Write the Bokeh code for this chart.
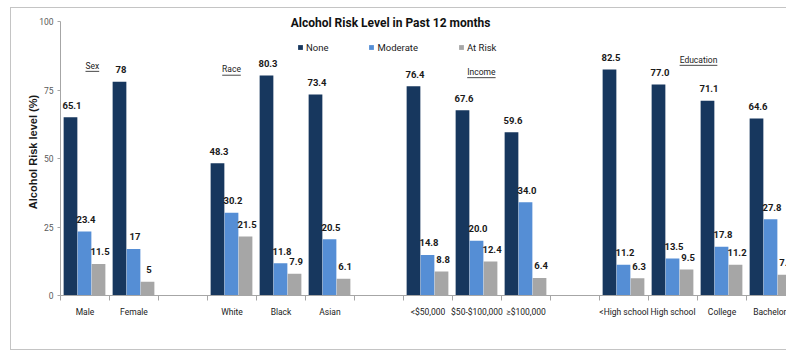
from bokeh.plotting import figure
from bokeh.models import (Range1d, FixedTicker, Legend, LegendItem, Label,
                          ColumnDataSource)
from bokeh.core.properties import value
from bokeh.transform import dodge
from bokeh.embed import file_html
from bokeh.resources import INLINE

# ---------------- data ----------------
categories = ["Male", "Female", "", "White", "Black", "Asian", "",
              "<$50,000", "$50-$100,000", "\u2265$100,000", "",
              "<High school", "High school", "College", "Bachelor"]
none_vals = [65.1, 78, None, 48.3, 80.3, 73.4, None, 76.4, 67.6, 59.6, None, 82.5, 77.0, 71.1, 64.6]
moderate_vals = [23.4, 17, None, 30.2, 11.8, 20.5, None, 14.8, 20.0, 34.0, None, 11.2, 13.5, 17.8, 27.8]
at_risk_vals = [11.5, 5, None, 21.5, 7.9, 6.1, None, 8.8, 12.4, 6.4, None, 6.3, 9.5, 11.2, 7.6]
none_labels = ["65.1", "78", "", "48.3", "80.3", "73.4", "", "76.4", "67.6", "59.6", "", "82.5", "77.0", "71.1", "64.6"]
moderate_labels = ["23.4", "17", "", "30.2", "11.8", "20.5", "", "14.8", "20.0", "34.0", "", "11.2", "13.5", "17.8", "27.8"]
at_risk_labels = ["11.5", "5", "", "21.5", "7.9", "6.1", "", "8.8", "12.4", "6.4", "", "6.3", "9.5", "11.2", "7.6"]
series_names = ["None", "Moderate", "At Risk"]
y_ticks = [0, 25, 50, 75, 100]
group_names = ["Sex", "Race", "Income", "Education"]

# ---------------- style ----------------
COLORS = ["#17375E", "#558ED5", "#A6A6A6"]
FONT = "Roboto"
SANS = "Liberation Sans"
OFFSETS = [-0.296, -0.010, 0.276]
BAR_W = 0.28

n_cat = len(categories)
visible_cats = 727 / 49.0   # the original chart is cut off at the right edge
y_top = 287 / 2.74          # a little headroom above 100 for the title

p = figure(width=776, height=343, output_backend="svg", toolbar_location=None,
           x_range=Range1d(0, visible_cats), y_range=Range1d(0, y_top),
           min_border_left=49, min_border_right=0, min_border_top=0,
           min_border_bottom=56)
p.margin = (7, 0, 0, 10)
p.styles = {"border-left": "1px solid #c4c4c4", "border-top": "1px solid #c4c4c4",
            "border-bottom": "1px solid #c4c4c4"}
p.outline_line_color = None
p.xgrid.visible = False
p.ygrid.visible = False
p.background_fill_color = "white"
p.border_fill_color = "white"

renderers = []
for vals, labels, color, off in zip([none_vals, moderate_vals, at_risk_vals],
                                    [none_labels, moderate_labels, at_risk_labels],
                                    COLORS, OFFSETS):
    xs = [i + 0.5 for i, v in enumerate(vals) if v is not None]
    ys = [v for v in vals if v is not None]
    ls = [l for l, v in zip(labels, vals) if v is not None]
    src = ColumnDataSource(dict(x=xs, y=ys, t=ls))
    r = p.vbar(x=dodge("x", off, range=p.x_range), top="y", width=BAR_W,
               source=src, fill_color=color, line_color=None)
    renderers.append(r)
    p.text(x=dodge("x", off, range=p.x_range), y="y", text="t", source=src,
           text_font=value(FONT), text_font_style="bold", text_font_size="9.5px",
           text_color="#1a1a1a", text_align="center", text_baseline="middle",
           x_offset=1.5, y_offset=-12)

# ---------------- axes ----------------
labeled = [i + 0.5 for i, c in enumerate(categories) if c]
p.xaxis.ticker = FixedTicker(ticks=labeled, minor_ticks=list(range(0, n_cat + 1)))
p.xaxis.major_label_overrides = {i + 0.5: c for i, c in enumerate(categories) if c}
p.xaxis.major_tick_out = 0
p.xaxis.major_tick_in = 0
p.xaxis.minor_tick_out = 5
p.xaxis.minor_tick_in = 0
p.xaxis.minor_tick_line_color = "#a6a6a6"
p.xaxis.axis_line_color = "#a6a6a6"
p.xaxis.major_label_standoff = 6
p.xaxis.major_label_text_font = FONT
p.xaxis.major_label_text_font_size = "8.5px"
p.xaxis.major_label_text_color = "#1a1a1a"

p.yaxis.ticker = FixedTicker(ticks=y_ticks, minor_ticks=[])
p.yaxis.bounds = (0, 100)
p.yaxis.axis_line_color = "#a6a6a6"
p.yaxis.major_tick_line_color = "#a6a6a6"
p.yaxis.major_tick_out = 3
p.yaxis.major_tick_in = 0
p.yaxis.minor_tick_line_color = None
p.yaxis.major_label_standoff = 4
p.yaxis.major_label_text_font = FONT
p.yaxis.major_label_text_font_size = "8.5px"
p.yaxis.major_label_text_color = "#595959"
p.yaxis.axis_label = "Alcohol Risk level (%)"
p.yaxis.axis_label_text_font = SANS
p.yaxis.axis_label_text_font_style = "bold"
p.yaxis.axis_label_text_font_size = "11px"
p.yaxis.axis_label_text_color = "#1a1a1a"
p.yaxis.axis_label_standoff = -3

# ---------------- legend ----------------
legend = Legend(items=[LegendItem(label=n, renderers=[r]) for n, r in zip(series_names, renderers)],
                orientation="horizontal", location=(237, 242),
                glyph_width=6, glyph_height=6, label_height=12, label_standoff=3,
                spacing=40, padding=0, margin=0,
                label_text_font=FONT, label_text_font_size="9.5px",
                label_text_color="#1a1a1a",
                border_line_color=None, background_fill_alpha=0)
p.add_layout(legend, "center")

# ---------------- title ----------------
p.add_layout(Label(x=6.735, y=99.4, text="Alcohol Risk Level in Past 12 months",
                   text_font=FONT, text_font_style="bold", text_font_size="12px",
                   text_color="#111111", text_align="center", text_baseline="middle"))

# ---------------- group labels (underlined) ----------------
grp_x = [0.65, 3.49, 8.59, 13.02]
grp_y = [83.9, 82.5, 81.6, 86.1]
grp_w = [0.28, 0.38, 0.58, 0.77]
gsrc = ColumnDataSource(dict(x=grp_x, y=grp_y, t=group_names,
                             x0=[x - w / 2 for x, w in zip(grp_x, grp_w)],
                             x1=[x + w / 2 for x, w in zip(grp_x, grp_w)],
                             yu=[y - 2.1 for y in grp_y]))
p.text(x="x", y="y", text="t", source=gsrc, text_font=value(FONT),
       text_font_size="8.5px", text_color="#1a1a1a", text_align="center",
       text_baseline="middle")
p.segment(x0="x0", y0="yu", x1="x1", y1="yu", source=gsrc,
          line_color="#1a1a1a", line_width=0.8)

open("out.html", "w").write(file_html(p, INLINE))
